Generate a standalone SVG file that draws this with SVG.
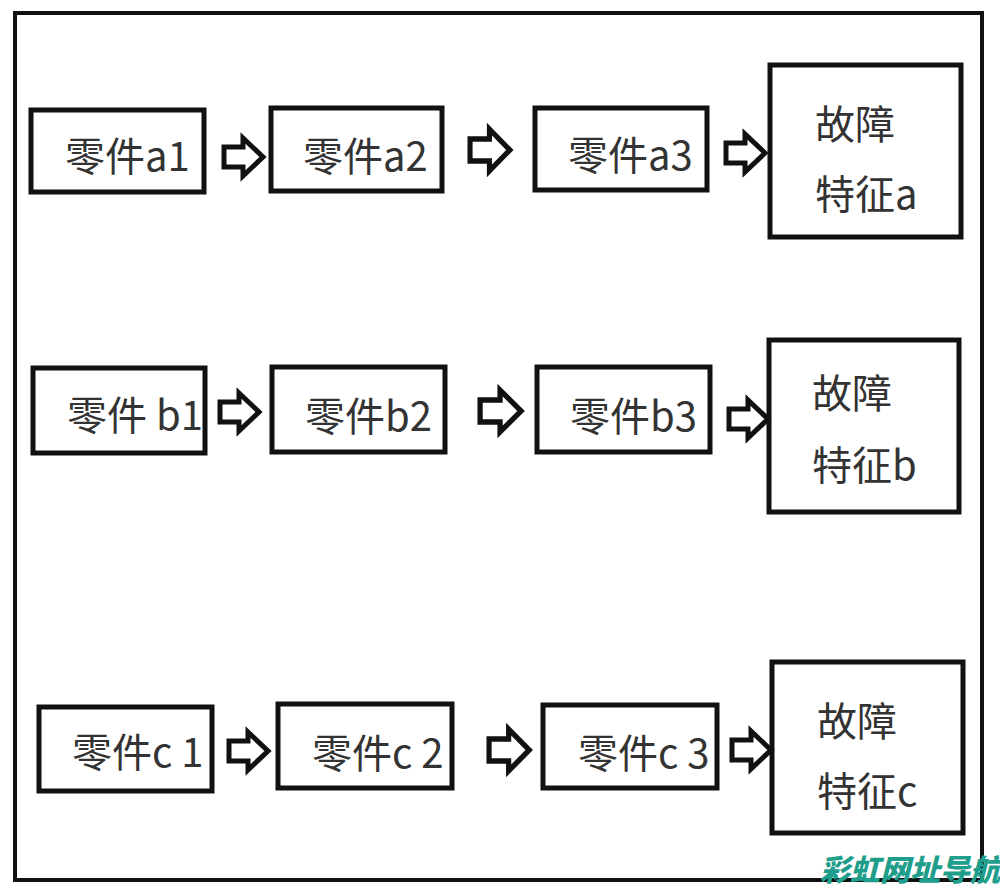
<svg xmlns="http://www.w3.org/2000/svg" width="1000" height="891" viewBox="0 0 1000 891">
<style>
.box{fill:#fff;stroke:#111;stroke-width:5}
.frame{fill:#fff;stroke:#111;stroke-width:4}
.lbl{font-family:"Noto Sans CJK SC","Noto Sans",sans-serif;font-size:40px;fill:#333}
.arr{fill:#fff;stroke:#111;stroke-width:5;stroke-linejoin:miter}
.wm{font-family:"Noto Sans CJK SC",sans-serif;font-size:30px;font-weight:900;font-style:italic;fill:#1f9e8c}
</style>
<defs>
<path id="arrow" d="M2,-10 H21 V-19 L41,0 L21,19 V10 H2 Z"/>
</defs>
<rect class="frame" x="15" y="13" width="967" height="867"/>
<g id="a1"><rect class="box" x="31" y="110" width="173" height="82"/><text class="lbl" x="65" y="171">零件a1</text></g>
<g id="a2"><rect class="box" x="271" y="108" width="171" height="83"/><text class="lbl" x="303" y="171">零件a2</text></g>
<g id="a3"><rect class="box" x="535" y="108" width="172" height="82"/><text class="lbl" x="568" y="170">零件a3</text></g>
<g id="fa"><rect class="box" x="770" y="65" width="191" height="172"/><text class="lbl" x="815" y="139">故障</text><text class="lbl" x="815" y="209">特征a</text></g>
<g id="b1"><rect class="box" x="33" y="368" width="172" height="85"/><text class="lbl" x="67" y="430">零件 b1</text></g>
<g id="b2"><rect class="box" x="272" y="367" width="173" height="85"/><text class="lbl" x="305" y="431">零件b2</text></g>
<g id="b3"><rect class="box" x="537" y="367" width="173" height="85"/><text class="lbl" x="570" y="431">零件b3</text></g>
<g id="fb"><rect class="box" x="769" y="340" width="190" height="172"/><text class="lbl" x="812" y="408">故障</text><text class="lbl" x="812" y="480">特征b</text></g>
<g id="c1"><rect class="box" x="39" y="707" width="173" height="84"/><text class="lbl" x="72" y="767">零件c 1</text></g>
<g id="c2"><rect class="box" x="278" y="704" width="174" height="84"/><text class="lbl" x="312" y="768">零件c 2</text></g>
<g id="c3"><rect class="box" x="543" y="705" width="174" height="83"/><text class="lbl" x="578" y="768">零件c 3</text></g>
<g id="fc"><rect class="box" x="772" y="662" width="191" height="171"/><text class="lbl" x="817" y="736">故障</text><text class="lbl" x="817" y="806">特征c</text></g>
<g id="connectors">
<use href="#arrow" class="arr" transform="translate(222,157)"/>
<use href="#arrow" class="arr" transform="translate(468,150) scale(1.02,1.1)"/>
<use href="#arrow" class="arr" transform="translate(724,153)"/>
<use href="#arrow" class="arr" transform="translate(218,412)"/>
<use href="#arrow" class="arr" transform="translate(478,411) scale(1.05,1.1)"/>
<use href="#arrow" class="arr" transform="translate(727,419)"/>
<use href="#arrow" class="arr" transform="translate(227,751)"/>
<use href="#arrow" class="arr" transform="translate(487,750) scale(1.03,1.1)"/>
<use href="#arrow" class="arr" transform="translate(730,750)"/>
</g>
<text class="wm" x="820" y="881">彩虹网址导航</text>
</svg>
